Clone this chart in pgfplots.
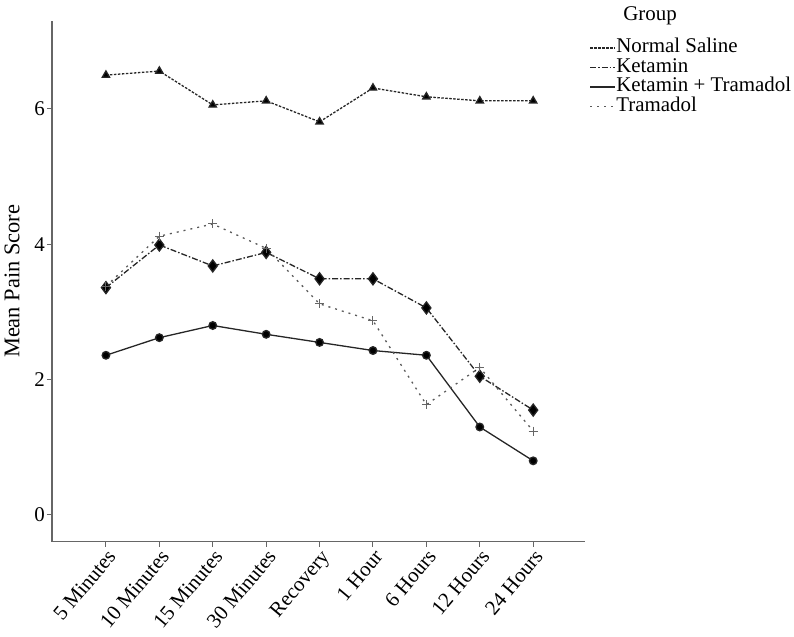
\documentclass[border=0pt]{standalone}
\usepackage{pgfplots}
\pgfplotsset{compat=1.18}
\usepackage{fontspec}
\setmainfont{Liberation Serif}
\newcommand{\f}{\fontsize{21}{23}\selectfont}
\begin{document}
\begin{tikzpicture}
\path[use as bounding box] (-52bp,-95.3bp) rectangle (742bp,541.7bp);
\begin{axis}[
  at={(0,0)}, anchor=south west,
  scale only axis, width=533bp, height=520.7bp,
  xmin=-1.01, xmax=8.97, ymin=-0.395, ymax=7.30,
  axis lines*=left,
  axis line style={draw=black!60, line width=1.3bp},
  xtick={0,...,8},
  xticklabels={5 Minutes,10 Minutes,15 Minutes,30 Minutes,Recovery,1 Hour,6 Hours,12 Hours,24 Hours},
  ytick={0,2,4,6},
  tick style={draw=black!60, line width=1bp},
  major tick length=5bp,
  tick align=outside,
  /pgf/number format/assume math mode=true,
  yticklabel style={font=\f, inner sep=2bp},
  xticklabel style={font=\f, rotate=50, anchor=north east, inner sep=1bp},
  ylabel={Mean Pain Score},
  every axis y label/.style={at={(rel axis cs:-0.075,0.5)}, rotate=90, anchor=center, font=\fontsize{22.5}{24}\selectfont},
  legend style={draw=none, fill=none, at={(rel axis cs:1.008,0.967)}, anchor=north west,
    font=\f, row sep=0bp, inner sep=0bp,
    nodes={inner sep=0.5bp, text height=14bp, text depth=4.5bp}},
  legend cell align=left,
  legend image code/.code={\draw[#1] (0,0) -- (25bp,0);},
  clip=false,
]
\addplot[black!85, line width=1.3bp, dash pattern=on 2.5bp off 1.5bp, mark=triangle*, mark size=4.2bp, mark options={solid, fill=black}]
coordinates {(0,6.50) (1,6.56) (2,6.06) (3,6.12) (4,5.81) (5,6.31) (6,6.18) (7,6.12) (8,6.12)};
\addlegendentry{Normal Saline}
\addplot[black!85, line width=1.3bp, dash pattern=on 6bp off 2bp on 1.5bp off 2bp, mark=diamond*, mark size=6bp, mark options={solid, fill=black}]
coordinates {(0,3.36) (1,3.99) (2,3.68) (3,3.88) (4,3.49) (5,3.49) (6,3.06) (7,2.05) (8,1.55)};
\addlegendentry{Ketamin}
\addplot[black!85, line width=1.3bp, solid, mark=*, mark size=3.8bp, mark options={solid, fill=black}]
coordinates {(0,2.36) (1,2.62) (2,2.80) (3,2.67) (4,2.55) (5,2.43) (6,2.36) (7,1.30) (8,0.80)};
\addlegendentry{Ketamin + Tramadol}
\addplot[black!65, line width=1.3bp, dash pattern=on 2bp off 5bp, mark=+, mark size=4.5bp, mark options={solid, black!60, line width=1bp}]
coordinates {(0,3.38) (1,4.12) (2,4.30) (3,3.94) (4,3.12) (5,2.87) (6,1.63) (7,2.18) (8,1.24)};
\addlegendentry{Tramadol}
\node[font=\f, anchor=base] at (rel axis cs:1.122,1.0) {Group};
\end{axis}
\end{tikzpicture}
\end{document}
